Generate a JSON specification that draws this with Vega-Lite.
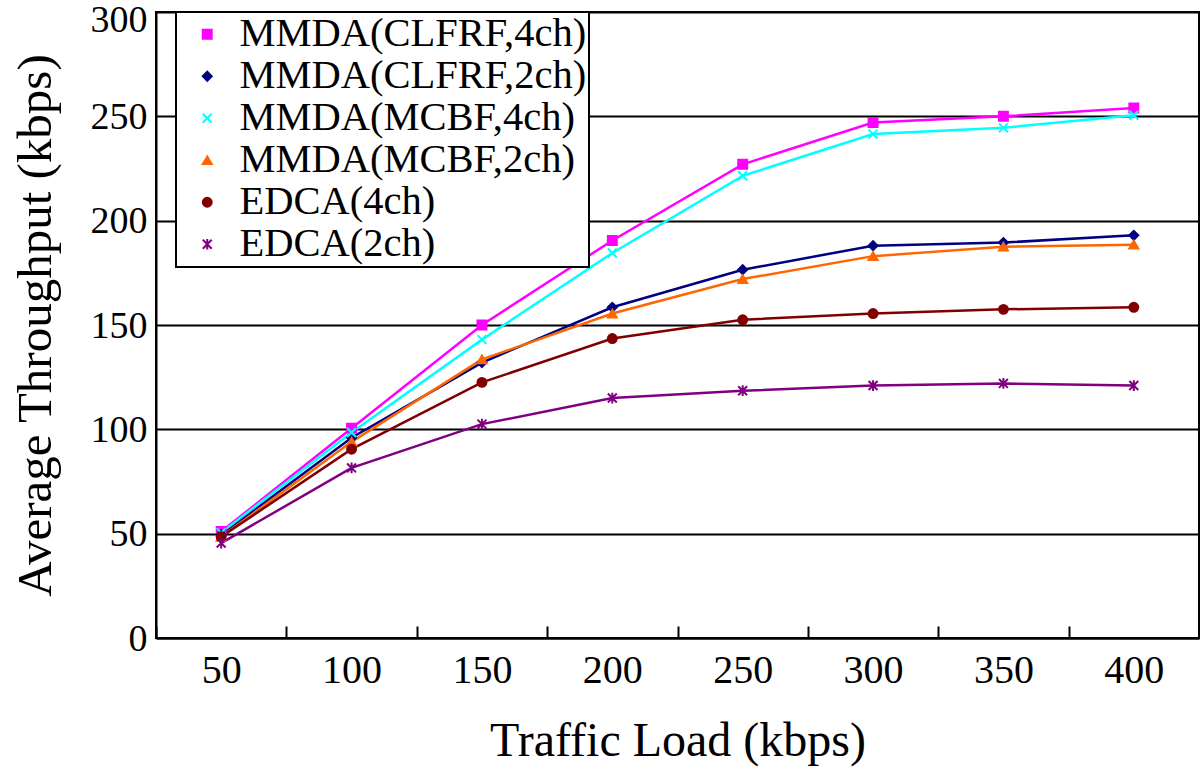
{
  "$schema": "https://vega.github.io/schema/vega-lite/v6.json",
  "width": 1043,
  "height": 626,
  "autosize": "none",
  "padding": {"left": 156, "top": 12, "right": 1, "bottom": 129},
  "background": "white",
  "config": {
    "view": {"stroke": "black", "strokeWidth": 2},
    "font": "Liberation Serif",
    "legend": {
      "title": null,
      "orient": "none",
      "legendX": 20,
      "legendY": 0,
      "padding": 2,
      "strokeColor": "black",
      "strokeWidth": 2,
      "fillColor": "white",
      "labelFont": "Liberation Serif",
      "labelFontSize": 40.5,
      "labelColor": "black",
      "labelLimit": 500,
      "symbolSize": 80,
      "symbolStrokeWidth": 2,
      "symbolOffset": 9,
      "labelOffset": 12,
      "rowPadding": 1
    }
  },
  "data": {
    "values": [
      {"series": "MMDA(CLFRF,4ch)", "load": "50", "throughput": 51},
      {"series": "MMDA(CLFRF,4ch)", "load": "100", "throughput": 100.5},
      {"series": "MMDA(CLFRF,4ch)", "load": "150", "throughput": 150},
      {"series": "MMDA(CLFRF,4ch)", "load": "200", "throughput": 190.5},
      {"series": "MMDA(CLFRF,4ch)", "load": "250", "throughput": 227},
      {"series": "MMDA(CLFRF,4ch)", "load": "300", "throughput": 247},
      {"series": "MMDA(CLFRF,4ch)", "load": "350", "throughput": 250},
      {"series": "MMDA(CLFRF,4ch)", "load": "400", "throughput": 254},
      {"series": "MMDA(CLFRF,2ch)", "load": "50", "throughput": 49.5},
      {"series": "MMDA(CLFRF,2ch)", "load": "100", "throughput": 96},
      {"series": "MMDA(CLFRF,2ch)", "load": "150", "throughput": 132},
      {"series": "MMDA(CLFRF,2ch)", "load": "200", "throughput": 158.5},
      {"series": "MMDA(CLFRF,2ch)", "load": "250", "throughput": 176.5},
      {"series": "MMDA(CLFRF,2ch)", "load": "300", "throughput": 188},
      {"series": "MMDA(CLFRF,2ch)", "load": "350", "throughput": 189.5},
      {"series": "MMDA(CLFRF,2ch)", "load": "400", "throughput": 193},
      {"series": "MMDA(MCBF,4ch)", "load": "50", "throughput": 50.5},
      {"series": "MMDA(MCBF,4ch)", "load": "100", "throughput": 98.5},
      {"series": "MMDA(MCBF,4ch)", "load": "150", "throughput": 143},
      {"series": "MMDA(MCBF,4ch)", "load": "200", "throughput": 184.5},
      {"series": "MMDA(MCBF,4ch)", "load": "250", "throughput": 221.5},
      {"series": "MMDA(MCBF,4ch)", "load": "300", "throughput": 241.5},
      {"series": "MMDA(MCBF,4ch)", "load": "350", "throughput": 244.5},
      {"series": "MMDA(MCBF,4ch)", "load": "400", "throughput": 250.5},
      {"series": "MMDA(MCBF,2ch)", "load": "50", "throughput": 48.5},
      {"series": "MMDA(MCBF,2ch)", "load": "100", "throughput": 94},
      {"series": "MMDA(MCBF,2ch)", "load": "150", "throughput": 133.5},
      {"series": "MMDA(MCBF,2ch)", "load": "200", "throughput": 155.5},
      {"series": "MMDA(MCBF,2ch)", "load": "250", "throughput": 172},
      {"series": "MMDA(MCBF,2ch)", "load": "300", "throughput": 183},
      {"series": "MMDA(MCBF,2ch)", "load": "350", "throughput": 187.5},
      {"series": "MMDA(MCBF,2ch)", "load": "400", "throughput": 188.5},
      {"series": "EDCA(4ch)", "load": "50", "throughput": 48.5},
      {"series": "EDCA(4ch)", "load": "100", "throughput": 90.5},
      {"series": "EDCA(4ch)", "load": "150", "throughput": 122.5},
      {"series": "EDCA(4ch)", "load": "200", "throughput": 143.5},
      {"series": "EDCA(4ch)", "load": "250", "throughput": 152.5},
      {"series": "EDCA(4ch)", "load": "300", "throughput": 155.5},
      {"series": "EDCA(4ch)", "load": "350", "throughput": 157.5},
      {"series": "EDCA(4ch)", "load": "400", "throughput": 158.5},
      {"series": "EDCA(2ch)", "load": "50", "throughput": 45.5},
      {"series": "EDCA(2ch)", "load": "100", "throughput": 81.5},
      {"series": "EDCA(2ch)", "load": "150", "throughput": 102.5},
      {"series": "EDCA(2ch)", "load": "200", "throughput": 115},
      {"series": "EDCA(2ch)", "load": "250", "throughput": 118.5},
      {"series": "EDCA(2ch)", "load": "300", "throughput": 121},
      {"series": "EDCA(2ch)", "load": "350", "throughput": 122},
      {"series": "EDCA(2ch)", "load": "400", "throughput": 121}
    ]
  },
  "encoding": {
    "x": {
      "field": "load",
      "type": "ordinal",
      "sort": ["50", "100", "150", "200", "250", "300", "350", "400"],
      "bandPosition": 0.5,
      "scale": {"type": "band", "paddingInner": 0, "paddingOuter": 0},
      "axis": {
        "title": "Traffic Load (kbps)",
        "titleFont": "Liberation Serif",
        "titleFontSize": 48,
        "titleFontWeight": "normal",
        "titleColor": "black",
        "titlePadding": 27,
        "labelFont": "Liberation Serif",
        "labelFontSize": 40,
        "labelColor": "black",
        "labelAngle": 0,
        "labelPadding": 24,
        "tickBand": "extent",
        "ticks": true,
        "tickSize": -12,
        "tickColor": "black",
        "tickWidth": 2,
        "domainColor": "black",
        "domainWidth": 2,
        "grid": false
      }
    },
    "y": {
      "field": "throughput",
      "type": "quantitative",
      "scale": {"domain": [0, 300], "nice": false},
      "axis": {
        "title": "Average Throughput (kbps)",
        "titleFont": "Liberation Serif",
        "titleFontSize": 49,
        "titleFontWeight": "normal",
        "titleColor": "black",
        "titlePadding": 30,
        "values": [0, 50, 100, 150, 200, 250, 300],
        "labelFont": "Liberation Serif",
        "labelFontSize": 38,
        "labelOffset": {"condition": {"test": "datum.value == 300", "value": 8}, "value": 1},
        "labelColor": "black",
        "labelPadding": 9,
        "ticks": false,
        "grid": true,
        "gridColor": "black",
        "gridWidth": 2,
        "gridOpacity": 1,
        "domainColor": "black",
        "domainWidth": 2
      }
    }
  },
  "layer": [
    {
      "mark": {"type": "line", "strokeWidth": 2.5},
      "encoding": {
        "color": {
          "field": "series",
          "type": "nominal",
          "scale": {
            "domain": ["MMDA(CLFRF,4ch)", "MMDA(CLFRF,2ch)", "MMDA(MCBF,4ch)", "MMDA(MCBF,2ch)", "EDCA(4ch)", "EDCA(2ch)"],
            "range": ["#FF00FF", "#000080", "#00FFFF", "#FF6600", "#800000", "#800080"]
          }
        }
      }
    },
    {
      "mark": {"type": "point", "filled": true, "size": 80, "strokeWidth": 2, "opacity": 1},
      "encoding": {
        "color": {
          "field": "series",
          "type": "nominal",
          "scale": {
            "domain": ["MMDA(CLFRF,4ch)", "MMDA(CLFRF,2ch)", "MMDA(MCBF,4ch)", "MMDA(MCBF,2ch)", "EDCA(4ch)", "EDCA(2ch)"],
            "range": ["#FF00FF", "#000080", "#00FFFF", "#FF6600", "#800000", "#800080"]
          }
        },
        "stroke": {
          "field": "series",
          "type": "nominal",
          "scale": {
            "domain": ["MMDA(CLFRF,4ch)", "MMDA(CLFRF,2ch)", "MMDA(MCBF,4ch)", "MMDA(MCBF,2ch)", "EDCA(4ch)", "EDCA(2ch)"],
            "range": ["#FF00FF", "#000080", "#00FFFF", "#FF6600", "#800000", "#800080"]
          }
        },
        "shape": {
          "field": "series",
          "type": "nominal",
          "scale": {
            "domain": ["MMDA(CLFRF,4ch)", "MMDA(CLFRF,2ch)", "MMDA(MCBF,4ch)", "MMDA(MCBF,2ch)", "EDCA(4ch)", "EDCA(2ch)"],
            "range": ["square", "diamond", "M-1,-1L1,1M-1,1L1,-1", "triangle-up", "circle", "M-1,-1L1,1M-1,1L1,-1M0,-1.2L0,1.2"]
          }
        }
      }
    }
  ]
}
